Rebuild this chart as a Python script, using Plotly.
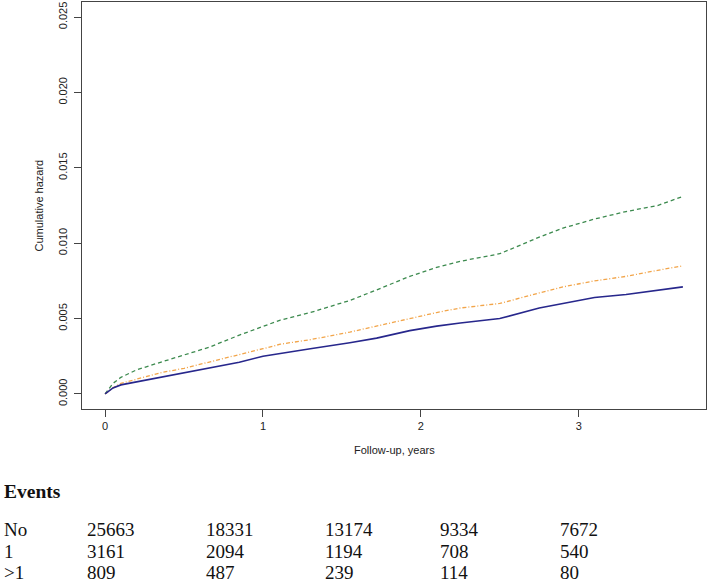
import plotly.graph_objects as go

# Follow-up time (years)
time_years = [0, 0.05, 0.1, 0.2, 0.35, 0.5, 0.66, 0.85, 1.0, 1.11, 1.3, 1.55, 1.72,
              1.93, 2.1, 2.25, 2.5, 2.75, 2.9, 3.1, 3.3, 3.5, 3.66]
# Cumulative hazard per group
haz_more_than_one = [0, 0.0007, 0.0011, 0.0016, 0.0021, 0.0026, 0.0031, 0.0039, 0.0045,
                     0.0049, 0.0054, 0.0062, 0.0069, 0.0078, 0.0084, 0.0088, 0.0093,
                     0.0104, 0.0110, 0.0116, 0.0121, 0.0125, 0.0131]
haz_one = [0, 0.0004, 0.0007, 0.0010, 0.0014, 0.0017, 0.0021, 0.0026, 0.0030, 0.0033,
           0.0036, 0.0041, 0.0045, 0.0050, 0.0054, 0.0057, 0.0060, 0.0067, 0.0071,
           0.0075, 0.0078, 0.0082, 0.0085]
haz_no = [0, 0.0004, 0.0006, 0.0008, 0.0011, 0.0014, 0.0017, 0.0021, 0.0025, 0.0027,
          0.0030, 0.0034, 0.0037, 0.0042, 0.0045, 0.0047, 0.0050, 0.0057, 0.0060,
          0.0064, 0.0066, 0.0069, 0.0071]

x_ticks = [0, 1, 2, 3]
y_ticks = [0.000, 0.005, 0.010, 0.015, 0.020, 0.025]
y_tick_labels = ["0.000", "0.005", "0.010", "0.015", "0.020", "0.025"]

# Number-at-risk table
table_title = "Events"
row_labels = ["No", "1", ">1"]
risk_no = [25663, 18331, 13174, 9334, 7672]
risk_one = [3161, 2094, 1194, 708, 540]
risk_more = [809, 487, 239, 114, 80]

W, H = 709, 584
L, R, T, B = 82, 3, 2, 175
PW = W - L - R
PH = H - T - B


def px_x(X):
    return (X - L) / PW


def px_y(Y):
    return (T + PH - Y) / PH


fig = go.Figure()
fig.add_trace(go.Scatter(x=time_years, y=haz_more_than_one, mode="lines",
                         line=dict(color="#3c8a4e", width=1.3, dash="4px,3px"),
                         name=">1", showlegend=False))
fig.add_trace(go.Scatter(x=time_years, y=haz_one, mode="lines",
                         line=dict(color="#f2a54a", width=1.3, dash="4px,2px,1px,2px"),
                         name="1", showlegend=False))
fig.add_trace(go.Scatter(x=time_years, y=haz_no, mode="lines",
                         line=dict(color="#27278c", width=1.6),
                         name="No", showlegend=False))

axis_font = dict(family="Liberation Sans, Arial, sans-serif", size=11, color="#222")
line_col = "#444"

annotations = []
annotations.append(dict(text="Cumulative hazard", textangle=-90, x=px_x(38), y=0.5,
                        xref="paper", yref="paper", showarrow=False,
                        xanchor="center", yanchor="middle", font=axis_font))
annotations.append(dict(text="Follow-up, years", x=px_x(394), y=px_y(450),
                        xref="paper", yref="paper", showarrow=False,
                        xanchor="center", yanchor="middle", font=axis_font))

serif = "Liberation Serif, Times New Roman, serif"
annotations.append(dict(text="<b>" + table_title + "</b>", x=px_x(2), y=px_y(491),
                        xref="paper", yref="paper", showarrow=False,
                        xanchor="left", yanchor="middle",
                        font=dict(family=serif, size=19.5, color="#111")))
col_x = [85, 204, 323, 438, 558]
row_y = [529, 551, 572]
rows = [risk_no, risk_one, risk_more]
for lab, vals, yy in zip(row_labels, rows, row_y):
    annotations.append(dict(text=lab.replace(">", "&gt;"), x=px_x(2), y=px_y(yy),
                            xref="paper", yref="paper", showarrow=False,
                            xanchor="left", yanchor="middle",
                            font=dict(family=serif, size=19, color="#111")))
    for v, cx in zip(vals, col_x):
        annotations.append(dict(text=str(v), x=px_x(cx), y=px_y(yy),
                                xref="paper", yref="paper", showarrow=False,
                                xanchor="left", yanchor="middle",
                                font=dict(family=serif, size=19, color="#111")))

fig.update_layout(
    width=W, height=H,
    margin=dict(l=L, r=R, t=T, b=B, autoexpand=False),
    paper_bgcolor="white", plot_bgcolor="white",
    xaxis=dict(range=[-0.1464, 3.8064], tickvals=x_ticks, ticktext=[str(t) for t in x_ticks],
               showgrid=False, zeroline=False, showline=True, mirror=True,
               linecolor=line_col, linewidth=1, ticks="outside", ticklen=7,
               tickcolor=line_col, tickfont=axis_font, automargin=False),
    yaxis=dict(range=[-0.001, 0.026], tickvals=y_ticks, ticktext=y_tick_labels,
               tickangle=-90, showgrid=False, zeroline=False, showline=True,
               mirror=True, linecolor=line_col, linewidth=1, ticks="outside",
               ticklen=7, tickcolor=line_col, tickfont=axis_font,
               ticklabelstandoff=3, automargin=False),
    annotations=annotations,
)

fig.write_html("out.html", config={"displayModeBar": False},
               post_script="document.body.style.margin='0';document.body.style.overflow='hidden';")
